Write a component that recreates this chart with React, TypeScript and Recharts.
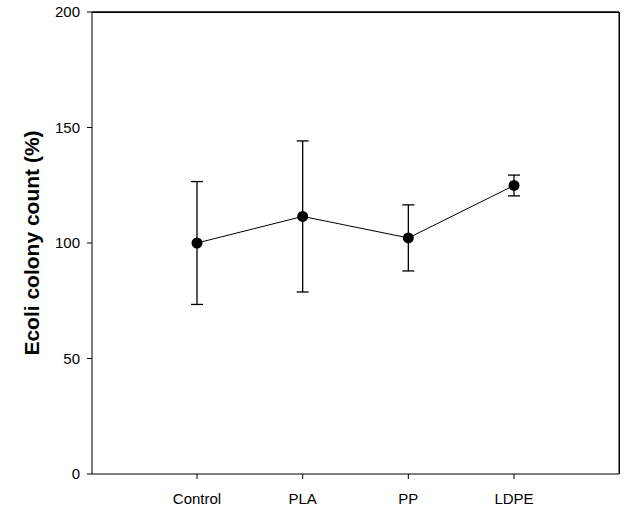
import { LineChart, Line, XAxis, YAxis, ErrorBar, ReferenceLine } from "recharts"

const categories = ["Control", "PLA", "PP", "LDPE"]
const colonyCount = [100, 111.5, 102.2, 124.9]
const colonyError = [26.6, 32.7, 14.3, 4.5]
const yTicks = [0, 50, 100, 150, 200]

const data = categories.map((name, i) => ({
  name,
  value: colonyCount[i],
  err: colonyError[i],
}))

const W = 631
const H = 514
const margin = { top: 11, right: 11, bottom: 0, left: 0 }
const yAxisWidth = 92
const xAxisHeight = 40

const font = { fontFamily: "'Liberation Sans', Arial, sans-serif", fontSize: 15, fill: "#000" }

export default function App() {
  const plotLeft = margin.left + yAxisWidth
  const plotTop = margin.top + 1
  const plotW = W - plotLeft - margin.right - 1
  const plotH = H - plotTop - margin.bottom - xAxisHeight

  return (
    <div style={{ position: "absolute", left: 0, top: 0, width: W, height: H, background: "#fff" }}>
      <LineChart width={W} height={H} data={data} margin={margin}>
        <XAxis
          dataKey="name"
          height={xAxisHeight}
          padding={{ left: 105, right: 105 }}
          tick={font}
          tickSize={5}
          tickMargin={14}
          stroke="#000"
          tickLine={{ stroke: "#000" }}
        />
        {/* frame: top and right axes without ticks */}
        <XAxis
          xAxisId="top"
          dataKey="name"
          orientation="top"
          height={1}
          padding={{ left: 105, right: 105 }}
          tick={false}
          tickLine={false}
          stroke="#000"
        />
        <YAxis
          width={yAxisWidth}
          domain={[0, 200]}
          ticks={yTicks}
          tick={font}
          tickSize={5}
          tickMargin={7}
          stroke="#000"
          label={{
            value: "Ecoli colony count (%)",
            angle: -90,
            position: "insideLeft",
            offset: 32,
            style: {
              textAnchor: "middle",
              fontFamily: "'Liberation Sans', Arial, sans-serif",
              fontSize: 21,
              fontWeight: "bold",
              fill: "#000",
            },
          }}
        />
        <YAxis
          yAxisId="right"
          orientation="right"
          width={1}
          domain={[0, 200]}
          ticks={yTicks}
          tick={false}
          tickLine={false}
          stroke="#000"
        />
        <ReferenceLine y={200} stroke="#000" strokeWidth={1} />
        <Line
          dataKey="value"
          stroke="#000"
          strokeWidth={1}
          isAnimationActive={false}
          dot={{ r: 5.5, fill: "#000", stroke: "#000", strokeWidth: 0 }}
          activeDot={false}
        >
          <ErrorBar dataKey="err" width={6} stroke="#000" strokeWidth={1.3} direction="y" />
        </Line>
        {/* invisible series so the top/right frame axes are in use */}
        <Line
          xAxisId="top"
          yAxisId="right"
          dataKey="value"
          stroke="none"
          dot={false}
          activeDot={false}
          legendType="none"
          isAnimationActive={false}
        />
      </LineChart>
      <div
        style={{
          position: "absolute",
          left: plotLeft,
          top: plotTop - 0.5,
          width: plotW + 0.5,
          height: plotH,
          boxSizing: "border-box",
          borderTop: "1px solid #000",
          borderRight: "1px solid #000",
          pointerEvents: "none",
        }}
      />
    </div>
  )
}
